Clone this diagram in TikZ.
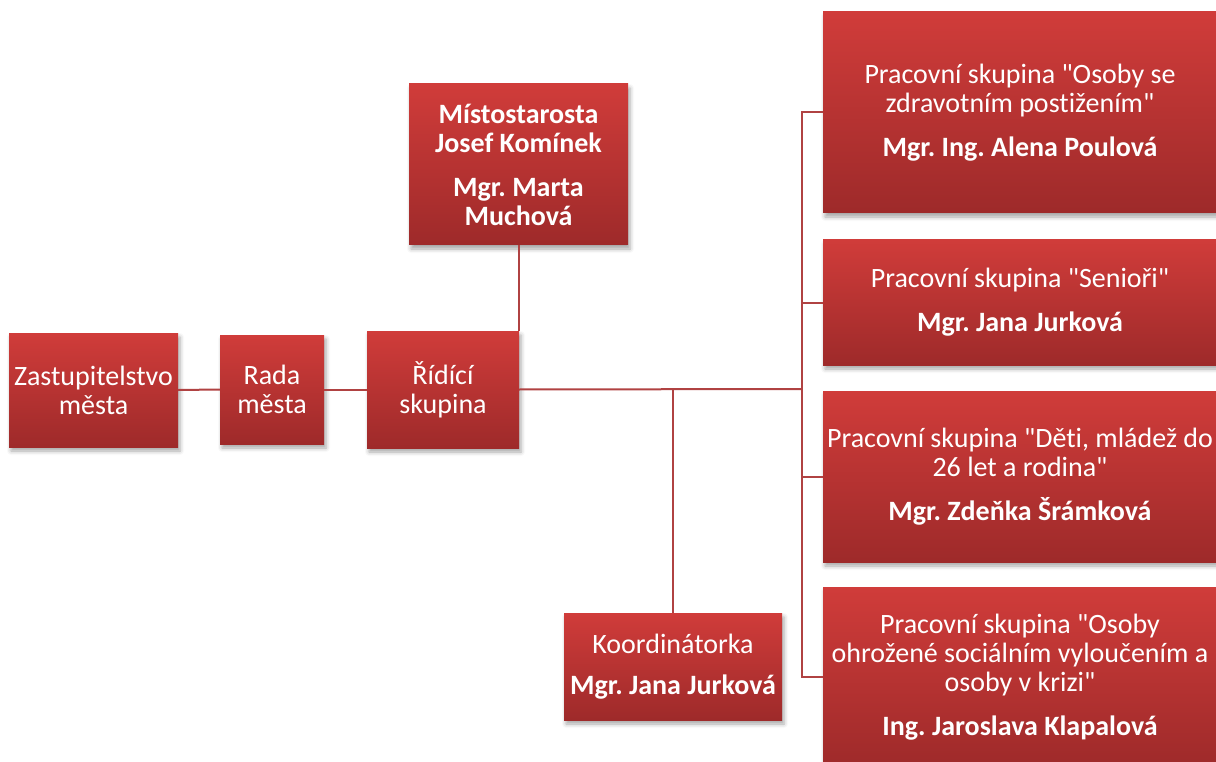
\documentclass[tikz,border=0pt]{standalone}
\usepackage{fontspec}
\setmainfont{Carlito}[Ligatures={TeXOff,CommonOff}]
\usetikzlibrary{shadows.blur}
\definecolor{boxtop}{RGB}{208,60,58}
\definecolor{boxbot}{RGB}{158,42,42}
\definecolor{linec}{RGB}{176,66,66}
\tikzset{
  orgbox/.style={rectangle, inner sep=1pt, align=center, text=white,
    top color=boxtop, bottom color=boxbot, draw=none,
    font=\fontsize{28}{29}\selectfont,
    blur shadow={shadow xshift=2pt, shadow yshift=-4pt, shadow blur radius=4pt, shadow opacity=35}},
  conn/.style={draw=linec, line width=2pt}
}
\frenchspacing
\begin{document}
\begin{tikzpicture}[x=1pt,y=-1pt]
\useasboundingbox (0,0) rectangle (1216,762);
\clip (0,0) rectangle (1216,762);
\node[orgbox, minimum width=169, minimum height=114] (zast) at (93.5,390) {Zastupitelstvo\\města};
\node[orgbox, minimum width=104, minimum height=109] (rada) at (272,389.5) {Rada\\města};
\node[orgbox, minimum width=152, minimum height=117] (ridici) at (443,389.5) {Řídící\\skupina};
\node[orgbox, minimum width=219, minimum height=161] (mist) at (518.5,164.5) {\bfseries Místostarosta\\\bfseries Josef Komínek\\[15pt]\bfseries Mgr. Marta\\\bfseries Muchová};
\node[orgbox, minimum width=218, minimum height=107] (koord) at (673,666.5) {Koordinátorka\\[12pt]\bfseries Mgr. Jana Jurková};
\node[orgbox, minimum width=394, minimum height=201] (p1) at (1020,112.5) {Pracovní skupina "Osoby se\\zdravotním postižením"\\[15pt]\bfseries Mgr. Ing. Alena Poulová};
\node[orgbox, minimum width=394, minimum height=125] (p2) at (1020,302.5) {Pracovní skupina "Senioři"\\[15pt]\bfseries Mgr. Jana Jurková};
\node[orgbox, minimum width=394, minimum height=171] (p3) at (1020,476.5) {Pracovní skupina "Děti, mládež do\\26 let a rodina"\\[15pt]\bfseries Mgr. Zdeňka Šrámková};
\node[orgbox, minimum width=394, minimum height=180] (p4) at (1020,677) {Pracovní skupina "Osoby\\ohrožené sociálním vyloučením a\\osoby v krizi"\\[15pt]\bfseries Ing. Jaroslava Klapalová};
\coordinate (hub) at (802,389);
\draw[conn] (zast.east) -- (rada.west);
\draw[conn] (rada.east) -- (ridici.west);
\draw[conn] (ridici.east) -- (hub);
\draw[conn] (mist.south) -- (mist.south |- ridici.north);
\draw[conn] (koord.north) -- (koord.north |- hub);
\draw[conn] (p1.west) -- (hub |- p1.west) -- (hub |- p4.west) -- (p4.west);
\draw[conn] (p2.west) -- (hub |- p2.west);
\draw[conn] (p3.west) -- (hub |- p3.west);
\end{tikzpicture}
\end{document}
